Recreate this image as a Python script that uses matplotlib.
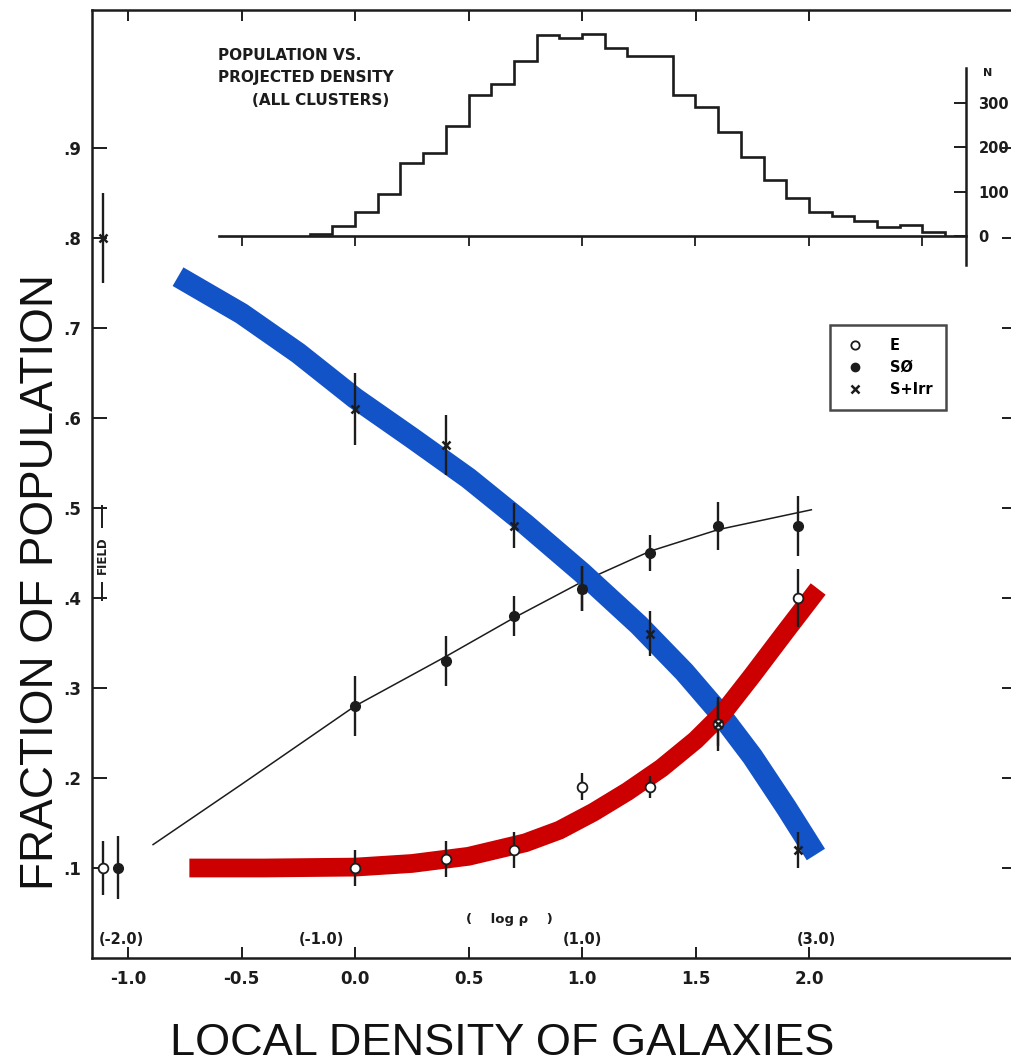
import numpy as np
import matplotlib.pyplot as plt
from matplotlib.lines import Line2D

# ---------------------------------------------------------------------
# data -----------------------------------------------------------------
# ---------------------------------------------------------------------
dens_x = [0.0, 0.4, 0.7, 1.0, 1.3, 1.6, 1.95]          # log projected density

frac_e = [0.10, 0.11, 0.12, 0.19, 0.19, 0.26, 0.40]
err_e = [0.02, 0.02, 0.02, 0.015, 0.012, 0.025, 0.032]

frac_s0 = [0.28, 0.33, 0.38, 0.41, 0.45, 0.48, 0.48]
err_s0 = [0.033, 0.028, 0.022, 0.025, 0.02, 0.027, 0.033]

frac_sirr = [0.61, 0.57, 0.48, 0.41, 0.36, 0.26, 0.12]
err_sirr = [0.04, 0.033, 0.025, 0.025, 0.025, 0.03, 0.02]

# field values, drawn just right of the y axis
field_x = [-1.11, -1.045, -1.11]                        # E, S0, S+Irr
field_frac = [0.10, 0.10, 0.80]
field_err = [0.03, 0.035, 0.05]

# thin S0 trend line of the original figure
s0_line_x = [-0.89, -0.5, 0.0, 0.4, 0.7, 1.0, 1.3, 1.6, 2.01]
s0_line_y = [0.126, 0.193, 0.28, 0.335, 0.378, 0.418, 0.452, 0.476, 0.498]

# thick overlaid curves
blue_x = [-0.78, -0.5, -0.25, 0.0, 0.25, 0.5, 0.75, 1.0, 1.25, 1.45,
          1.6, 1.75, 1.9, 2.03]
blue_y = [0.757, 0.716, 0.672, 0.622, 0.578, 0.533, 0.482, 0.428, 0.370, 0.318,
          0.274, 0.224, 0.167, 0.115]
red_x = [-0.73, -0.4, 0.0, 0.25, 0.5, 0.75, 0.9, 1.05, 1.2, 1.35, 1.5,
         1.62, 1.75, 1.9, 2.04]
red_y = [0.100, 0.100, 0.101, 0.105, 0.113, 0.128, 0.142, 0.162, 0.185, 0.211, 0.242,
         0.272, 0.314, 0.364, 0.41]

# population vs projected density histogram (0.1 dex bins from -0.2)
hist_n = [5, 22, 54, 95, 165, 187, 248, 318, 343, 395, 454, 447, 456, 424,
          406, 406, 318, 291, 235, 178, 126, 86, 54, 45, 34, 20, 25, 9]
hist_edges = np.round(-0.2 + 0.1 * np.arange(len(hist_n) + 1), 2)

x_ticks = [-1.0, -0.5, 0.0, 0.5, 1.0, 1.5, 2.0]
x_ticklabels = ["-1.0", "-0.5", "0.0", "0.5", "1.0", "1.5", "2.0"]
y_ticks = [0.1, 0.2, 0.3, 0.4, 0.5, 0.6, 0.7, 0.8, 0.9]
y_ticklabels = [".1", ".2", ".3", ".4", ".5", ".6", ".7", ".8", ".9"]
rho_labels = ["(-2.0)", "(-1.0)", "(1.0)", "(3.0)"]
rho_pos = [-1.03, -0.15, 1.0, 2.03]
hist_ticks = [0, 100, 200, 300]

INK = "#1c1c1c"
BLUE = "#1253c8"
RED = "#cc0000"

# ---------------------------------------------------------------------
# figure ---------------------------------------------------------------
# ---------------------------------------------------------------------
W, H = 1012, 1063
fig = plt.figure(figsize=(W / 100, H / 100), dpi=100)
plt.rcParams["font.family"] = "DejaVu Sans"

# main panel: left spine at x=92 px, bottom at y=958 px, top at y=10 px,
# right spine just past the picture edge (only its ticks show)
ax = fig.add_axes([92 / W, (H - 958) / H, 925 / W, 948 / H])
ax.set_xlim(-1.159, 2.916)
ax.set_ylim(0, 1.0533)
for sp in ax.spines.values():
    sp.set_linewidth(1.8)
    sp.set_color(INK)
ax.spines["right"].set_visible(False)

ax.set_xticks(x_ticks)
ax.set_xticklabels(x_ticklabels, fontsize=12, fontweight="bold", color=INK)
ax.set_yticks(y_ticks)
ax.set_yticklabels(y_ticklabels, fontsize=12, fontweight="bold", color=INK)
ax.tick_params(axis="x", direction="in", length=8, width=1.4, top=True, pad=9, colors=INK)
ax.tick_params(axis="y", direction="in", length=11, width=1.4, right=True, pad=8, colors=INK)

# thin S0 trend line
ax.plot(s0_line_x, s0_line_y, color=INK, lw=1.1, zorder=2)

# overlaid thick curves
ax.plot(blue_x, blue_y, color=BLUE, lw=15.5, solid_capstyle="butt",
        solid_joinstyle="round", zorder=3)
ax.plot(red_x, red_y, color=RED, lw=13.5, solid_capstyle="butt",
        solid_joinstyle="round", zorder=3)

# data points -----------------------------------------------------------
eb = dict(ecolor=INK, elinewidth=1.7, capsize=0, zorder=4, ls="none")
ax.errorbar(dens_x, frac_e, yerr=err_e, fmt="o", ms=7, mfc="white", mec=INK, mew=1.3, **eb)
ax.errorbar(dens_x, frac_s0, yerr=err_s0, fmt="o", ms=7, mfc=INK, mec=INK, **eb)
ax.errorbar(dens_x, frac_sirr, yerr=err_sirr, fmt="x", ms=6, mec=INK, mew=1.8, **eb)

ax.errorbar(field_x[:1], field_frac[:1], yerr=field_err[:1], fmt="o", ms=7,
            mfc="white", mec=INK, mew=1.3, **eb)
ax.errorbar(field_x[1:2], field_frac[1:2], yerr=field_err[1:2], fmt="o", ms=7,
            mfc=INK, mec=INK, **eb)
ax.errorbar(field_x[2:], field_frac[2:], yerr=field_err[2:], fmt="x", ms=6,
            mec=INK, mew=1.8, **eb)

# FIELD bracket
ax.vlines([-1.113, -1.113], [0.397, 0.478], [0.418, 0.503], color=INK, lw=1.4)
ax.text(-1.113, 0.448, "FIELD", rotation=90, ha="center", va="center",
        fontsize=8.5, fontweight="bold", color=INK)

# log rho annotations
ax.text(0.68, 0.043, "(    log ρ    )", ha="center", va="center",
        fontsize=9.5, fontweight="bold", color=INK)
for xp, lab in zip(rho_pos, rho_labels):
    ax.text(xp, 0.02, lab, ha="center", va="center", fontsize=10.5,
            fontweight="bold", color=INK)

# histogram title
ax.text(-0.604, 1.003, "POPULATION VS.", ha="left", va="center",
        fontsize=11, fontweight="bold", color=INK)
ax.text(-0.604, 0.978, "PROJECTED DENSITY", ha="left", va="center",
        fontsize=11, fontweight="bold", color=INK)
ax.text(-0.154, 0.953, "(ALL CLUSTERS)", ha="center", va="center",
        fontsize=11, fontweight="bold", color=INK)

# legend
handles = [
    Line2D([], [], ls="none", marker="o", ms=6, mfc="white", mec=INK, mew=1.3),
    Line2D([], [], ls="none", marker="o", ms=6, mfc=INK, mec=INK),
    Line2D([], [], ls="none", marker="x", ms=5.5, mec=INK, mew=1.8),
]
leg = ax.legend(handles, ["E", "SØ", "S+Irr"], loc="upper left",
                bbox_to_anchor=(0.798, 0.6677), borderaxespad=0,
                frameon=True, fancybox=False, borderpad=0.9,
                labelspacing=0.48, handlelength=1.6, handletextpad=1.6,
                prop=dict(size=10.5, weight="bold"))
leg.get_frame().set_edgecolor(INK)
leg.get_frame().set_linewidth(1.8)
leg.set_zorder(6)

# ---------------------------------------------------------------------
# histogram panel (N axis line at x=966 px, baseline at y=236 px) -------
# ---------------------------------------------------------------------
axh = fig.add_axes([92 / W, (H - 265) / H, 874 / W, 197 / H])
axh.patch.set_visible(False)
axh.set_xlim(-1.159, 2.692)
axh.set_ylim(-65.5, 379)
axh.stairs(hist_n, hist_edges, baseline=0, color=INK, lw=1.9, clip_on=False)

for side in ("top", "left"):
    axh.spines[side].set_visible(False)
axh.spines["right"].set_linewidth(1.8)
axh.spines["right"].set_color(INK)
axh.spines["bottom"].set_position(("data", 0))
axh.spines["bottom"].set_bounds(-0.6, 2.692)
axh.spines["bottom"].set_linewidth(1.9)
axh.spines["bottom"].set_color(INK)

axh.set_xticks([-0.5, 0.0, 0.5, 1.0, 1.5, 2.0, 2.5])
axh.tick_params(axis="x", direction="out", length=7, width=1.3, labelbottom=False, colors=INK)
axh.set_yticks(hist_ticks)
axh.set_yticklabels([str(t) for t in hist_ticks], fontsize=10.5, fontweight="bold", color=INK)
axh.yaxis.tick_right()
axh.tick_params(axis="y", direction="in", length=9, width=1.4, pad=9, colors=INK)
axh.text(2.789, 368, "N", ha="center", va="center", fontsize=8,
         fontweight="bold", color=INK, clip_on=False)

# ---------------------------------------------------------------------
# big axis labels --------------------------------------------------------
# ---------------------------------------------------------------------
fig.text(53 / W, 1 - 582 / H, "FRACTION OF POPULATION", rotation=90,
         rotation_mode="anchor", ha="center", va="baseline",
         fontsize=33, family="Liberation Sans", color="#111111")
fig.text(502 / W, 1 - 1055 / H, "LOCAL DENSITY OF GALAXIES",
         ha="center", va="baseline", fontsize=32.5, family="Liberation Sans",
         color="#111111")

fig.savefig("out.png", dpi=100, facecolor="white")
